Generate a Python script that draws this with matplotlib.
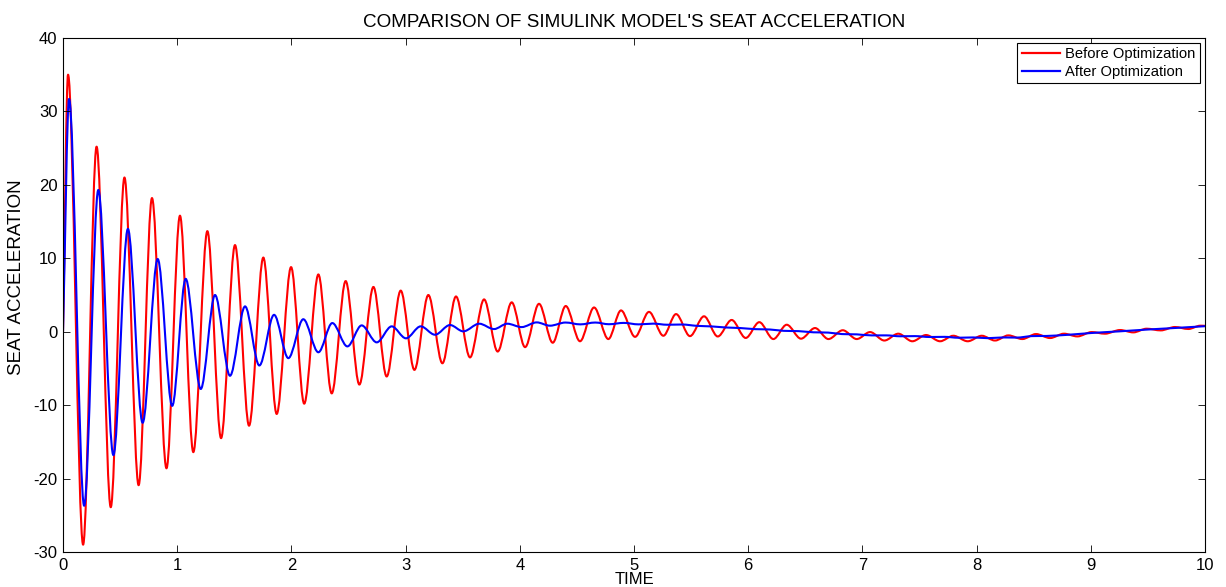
"""Seat acceleration of the Simulink model, before and after optimization."""

import matplotlib

matplotlib.use("Agg")
import matplotlib.pyplot as plt
from matplotlib.lines import Line2D
from matplotlib.patches import PathPatch
from matplotlib.path import Path

plt.rcParams["font.family"] = ["Liberation Sans", "DejaVu Sans"]
plt.rcParams["axes.unicode_minus"] = False

# peaks and troughs (time, seat acceleration)
red_t = [0.0, 0.044, 0.176, 0.294, 0.418, 0.538, 0.662, 0.779, 0.906, 1.024, 1.141,
         1.264, 1.384, 1.506, 1.629, 1.754, 1.871, 1.997, 2.112, 2.236, 2.353, 2.475,
         2.595, 2.718, 2.834, 2.957, 3.077, 3.199, 3.322, 3.441, 3.564, 3.687, 3.806,
         3.929, 4.046, 4.168, 4.288, 4.402, 4.527, 4.650, 4.775, 4.886, 5.009, 5.131,
         5.257, 5.368, 5.490, 5.613, 5.733, 5.855, 5.978, 6.097, 6.220, 6.337, 6.462,
         6.585, 6.702, 6.828, 6.950, 7.067, 7.192, 7.314, 7.437, 7.557, 7.680, 7.796,
         7.922, 8.045, 8.161, 8.278, 8.400, 8.520, 8.643, 8.765, 8.882, 9.008, 9.124,
         9.256, 9.372, 9.489, 9.612, 9.737, 9.854, 9.959, 10.0]
red_v = [0.0, 35.0, -29.0, 25.2, -23.9, 21.0, -20.9, 18.2, -18.6, 15.8, -16.4,
         13.7, -14.5, 11.8, -12.8, 10.1, -11.2, 8.8, -9.8, 7.8, -8.4, 6.9,
         -7.2, 6.1, -6.1, 5.6, -5.2, 5.0, -4.3, 4.8, -3.5, 4.4, -2.7,
         4.0, -2.1, 3.8, -1.5, 3.5, -1.3, 3.3, -1.0, 2.9, -0.7, 2.7,
         -0.55, 2.4, -0.6, 2.1, -0.65, 1.6, -0.85, 1.3, -1.0, 0.95, -0.95,
         0.5, -1.0, 0.2, -1.0, -0.05, -1.2, -0.27, -1.3, -0.45, -1.3, -0.55,
         -1.3, -0.55, -1.2, -0.5, -1.0, -0.32, -0.86, -0.27, -0.64, -0.05, -0.27,
         0.23, -0.09, 0.41, 0.18, 0.64, 0.37, 0.82, 0.8]

blue_t = [0.0, 0.053, 0.185, 0.309, 0.441, 0.568, 0.697, 0.829, 0.956, 1.074, 1.206,
          1.331, 1.462, 1.594, 1.719, 1.848, 1.973, 2.104, 2.236, 2.358, 2.490, 2.615,
          2.747, 2.878, 3.003, 3.132, 3.257, 3.389, 3.505, 3.645, 3.774, 3.890, 4.016,
          4.148, 4.264, 4.40, 4.53, 4.66, 4.78, 4.91, 5.04, 5.17, 5.29, 5.42, 5.55,
          5.68, 5.80, 5.93, 6.06, 6.19, 6.31, 6.44, 6.57, 6.70, 6.82, 6.95, 7.08,
          7.21, 7.33, 7.46, 7.59, 7.72, 7.84, 7.97, 8.10, 8.23, 8.35, 8.48, 8.61,
          8.80, 9.00, 9.25, 9.50, 9.75, 10.0]
blue_v = [0.0, 31.7, -23.7, 19.3, -16.8, 14.0, -12.4, 9.9, -10.1, 7.2, -7.8,
          5.0, -6.0, 3.45, -4.6, 2.3, -3.6, 1.7, -2.8, 1.18, -2.0, 0.86,
          -1.45, 0.73, -0.9, 0.73, -0.41, 0.91, 0.05, 1.09, 0.36, 1.09, 0.63,
          1.27, 0.82, 1.25, 1.0, 1.25, 1.02, 1.2, 1.0, 1.1, 0.95, 0.98, 0.8,
          0.72, 0.58, 0.5, 0.35, 0.3, 0.12, 0.08, -0.08, -0.12, -0.32, -0.36, -0.5,
          -0.5, -0.62, -0.6, -0.72, -0.7, -0.82, -0.78, -0.88, -0.78, -0.8, -0.6, -0.58,
          -0.42, -0.18, 0.05, 0.3, 0.52, 0.75]

x_ticks = list(range(0, 11))
y_ticks = list(range(-30, 41, 10))


def smooth_path(xs, ys):
    # cubic segments through the read points, flat at each peak/trough
    n = len(xs)
    slopes = []
    for i in range(n):
        if i == 0:
            slopes.append((ys[1] - ys[0]) / (xs[1] - xs[0]))
        elif i == n - 1:
            slopes.append((ys[i] - ys[i - 1]) / (xs[i] - xs[i - 1]))
        elif (ys[i] - ys[i - 1]) * (ys[i + 1] - ys[i]) <= 0:
            slopes.append(0.0)
        else:
            slopes.append((ys[i + 1] - ys[i - 1]) / (xs[i + 1] - xs[i - 1]))
    verts = [(xs[0], ys[0])]
    codes = [Path.MOVETO]
    for i in range(n - 1):
        h = xs[i + 1] - xs[i]
        verts += [(xs[i] + h / 3, ys[i] + slopes[i] * h / 3),
                  (xs[i + 1] - h / 3, ys[i + 1] - slopes[i + 1] * h / 3),
                  (xs[i + 1], ys[i + 1])]
        codes += [Path.CURVE4] * 3
    return Path(verts, codes)


fig = plt.figure(figsize=(12.26, 5.87), dpi=100)
ax = fig.add_axes([0.0514, 0.0596, 0.9315, 0.8757])

for xs, ys, color in [(red_t, red_v, "#ff0000"), (blue_t, blue_v, "#0000ff")]:
    ax.add_patch(PathPatch(smooth_path(xs, ys), fill=False, edgecolor=color,
                           linewidth=1.5, joinstyle="round"))

ax.set_xlim(0, 10)
ax.set_ylim(-30, 40)
ax.set_xticks(x_ticks)
ax.set_yticks(y_ticks)
ax.tick_params(direction="in", length=5, width=0.6, top=True, right=True,
               labelsize=12, pad=4)
for spine in ax.spines.values():
    spine.set_linewidth(0.8)

ax.set_title("COMPARISON OF SIMULINK MODEL'S SEAT ACCELERATION", fontsize=13.6, pad=8)
ax.set_xlabel("TIME", fontsize=12, va="baseline")
ax.xaxis.set_label_coords(0.5, -0.0625)
ax.set_ylabel("SEAT ACCELERATION", fontsize=13.5)
ax.yaxis.set_label_coords(-0.0335, 0.535)

handles = [Line2D([], [], color="#ff0000", linewidth=1.6),
           Line2D([], [], color="#0000ff", linewidth=1.6)]
leg = ax.legend(handles, ["Before Optimization", "After Optimization"],
                loc="upper right", bbox_to_anchor=(0.9956, 0.9903), borderaxespad=0,
                fontsize=10.6, fancybox=False, framealpha=1, edgecolor="black",
                handlelength=2.6, handletextpad=0.35, borderpad=0.3, labelspacing=0.25)
leg.get_frame().set_linewidth(0.8)

fig.savefig("out.png", dpi=100)
